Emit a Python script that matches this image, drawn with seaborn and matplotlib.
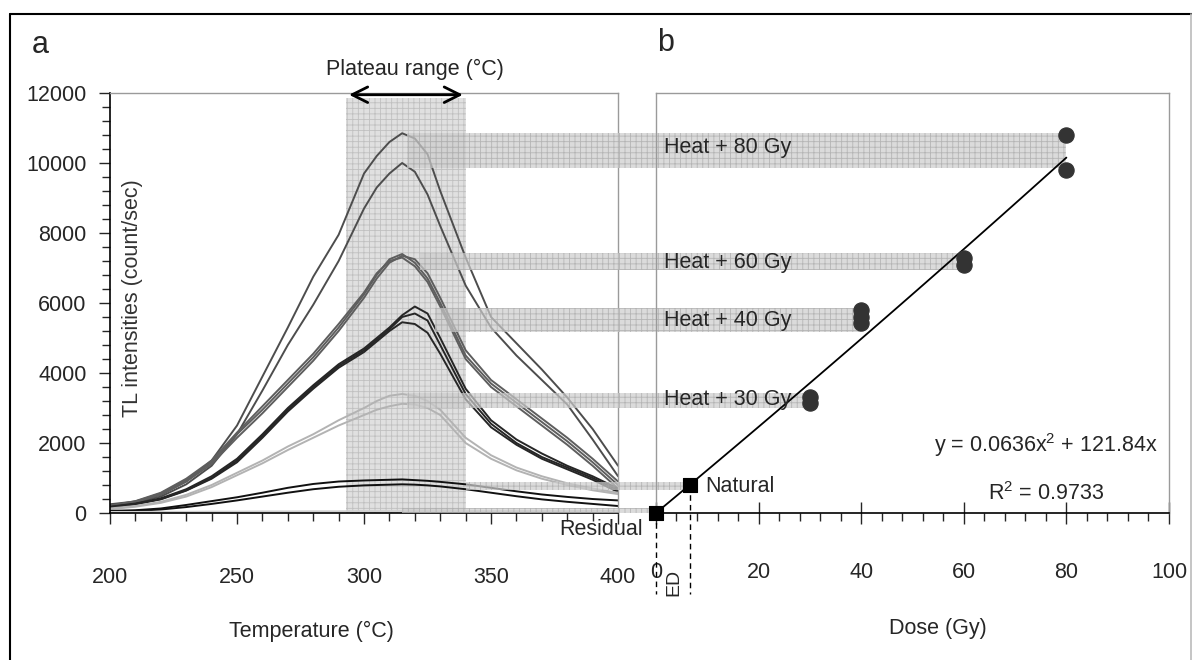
import numpy as np
import pandas as pd
import seaborn as sns
import matplotlib.pyplot as plt
from matplotlib.patches import Rectangle
from matplotlib.lines import Line2D
from matplotlib.ticker import MultipleLocator

sns.set_theme(style="white")
plt.rcParams['font.family'] = ['Liberation Sans', 'DejaVu Sans']
plt.rcParams['mathtext.fontset'] = 'custom'
plt.rcParams['mathtext.rm'] = 'Liberation Sans'
plt.rcParams['hatch.linewidth'] = 0.6

#%% glow curves (panel a)
temps = [200, 210, 220, 230, 240, 250, 260, 270, 280, 290, 300, 305, 310, 315,
         320, 325, 330, 340, 350, 360, 370, 380, 390, 400]

glow_80a = [250, 330, 520, 900, 1500, 2500, 3900, 5300, 6750, 7950, 9700, 10200, 10600, 10850,
            10700, 10250, 9200, 7300, 5600, 4850, 4100, 3300, 2400, 1350]
glow_80b = [230, 300, 470, 820, 1350, 2250, 3500, 4800, 5950, 7200, 8700, 9300, 9700, 10000,
            9750, 9100, 8200, 6500, 5300, 4500, 3800, 3100, 2100, 1050]
glow_60a = [200, 330, 560, 950, 1450, 2250, 2950, 3700, 4450, 5300, 6250, 6800, 7250, 7400,
            7150, 6700, 6000, 4500, 3700, 3150, 2600, 2050, 1450, 800]
glow_60b = [190, 310, 530, 900, 1400, 2150, 2850, 3600, 4350, 5200, 6150, 6700, 7150, 7350,
            7250, 6850, 6150, 4650, 3800, 3250, 2700, 2150, 1550, 900]
glow_60c = [210, 340, 580, 980, 1500, 2300, 3050, 3800, 4550, 5400, 6300, 6850, 7200, 7300,
            7050, 6600, 5900, 4400, 3600, 3050, 2500, 1950, 1350, 700]
glow_40a = [180, 270, 420, 680, 1050, 1550, 2250, 3000, 3650, 4250, 4700, 5000, 5300, 5650,
            5900, 5700, 5000, 3550, 2650, 2100, 1700, 1350, 1050, 700]
glow_40b = [170, 260, 400, 650, 1000, 1500, 2200, 2950, 3600, 4200, 4650, 4950, 5250, 5600,
            5700, 5500, 4800, 3400, 2550, 2000, 1600, 1300, 1000, 650]
glow_40c = [160, 250, 390, 640, 980, 1450, 2150, 2900, 3550, 4150, 4600, 4900, 5200, 5450,
            5400, 5150, 4550, 3250, 2450, 1950, 1550, 1250, 950, 600]
glow_30a = [130, 200, 320, 520, 800, 1150, 1500, 1900, 2250, 2650, 3000, 3200, 3350, 3400,
            3350, 3200, 2950, 2150, 1650, 1300, 1050, 850, 700, 580]
glow_30b = [110, 180, 290, 470, 740, 1080, 1420, 1800, 2150, 2500, 2800, 2950, 3050, 3120,
            3100, 3000, 2800, 2000, 1550, 1220, 980, 800, 650, 540]
natural_a = [60, 80, 130, 230, 340, 450, 580, 720, 830, 900, 930, 940, 950, 960,
             940, 920, 890, 820, 720, 620, 530, 460, 400, 360]
natural_b = [40, 60, 100, 170, 260, 360, 470, 580, 680, 750, 790, 800, 810, 820,
             810, 790, 760, 680, 580, 480, 390, 320, 260, 200]
residual = [30, 30, 35, 35, 40, 40, 45, 45, 50, 50, 55, 55, 55, 55,
            55, 55, 55, 55, 55, 55, 55, 55, 60, 60]

curves = {'80a': glow_80a, '80b': glow_80b, '60a': glow_60a, '60b': glow_60b, '60c': glow_60c,
          '40a': glow_40a, '40b': glow_40b, '40c': glow_40c, '30a': glow_30a, '30b': glow_30b,
          'nat_a': natural_a, 'nat_b': natural_b, 'res': residual}
curve_colors = {'80a': '#4d4d4d', '80b': '#4d4d4d', '60a': '#5e5e5e', '60b': '#5e5e5e',
                '60c': '#5e5e5e', '40a': '#262626', '40b': '#262626', '40c': '#262626',
                '30a': '#b3b3b3', '30b': '#b3b3b3', 'nat_a': '#111111', 'nat_b': '#111111',
                'res': '#cfcfcf'}

plateau = (293, 340)

#%% dose response (panel b)
dose_points = [80, 80, 60, 60, 40, 40, 40, 30, 30]
tl_points = [10800, 9800, 7280, 7090, 5800, 5600, 5430, 3320, 3130]
natural_dose, natural_tl = 6.7, 800
residual_dose, residual_tl = 0, 0
fit_a, fit_b = 0.0636, 121.84

heat_labels = ['Heat + 80 Gy', 'Heat + 60 Gy', 'Heat + 40 Gy', 'Heat + 30 Gy']
heat_label_tl = [10430, 7170, 5510, 3230]

# bands linking the glow peaks to the dose points
band_low = [9850, 6950, 5180, 2990, 660, 0]
band_high = [10870, 7420, 5850, 3420, 890, 130]
band_start_T = [317, 322, 328, 317, 340, 315]
band_end_dose = [80, 60, 40, 30, 6.7, 0]

#%% figure
fig = plt.figure(figsize=(11.92, 6.6), dpi=100)
ax_a = fig.add_axes([0.0923, 0.2227, 0.4262, 0.6364])
ax_b = fig.add_axes([0.5503, 0.2227, 0.4304, 0.6364])

df = pd.concat([pd.DataFrame({'T': temps, 'I': v, 'curve': k}) for k, v in curves.items()])
sns.lineplot(data=df, x='T', y='I', hue='curve', palette=curve_colors, legend=False,
             estimator=None, sort=False, lw=1.4, ax=ax_a)

ax_a.add_patch(Rectangle((plateau[0], 0), plateau[1] - plateau[0], 11850,
                         facecolor='#e0e0e0', edgecolor='#c0c0c0', hatch='+++', lw=0, zorder=0.5))

ax_a.set_xlim(200, 400)
ax_a.set_ylim(0, 12000)
ax_a.set_xlabel('')
ax_a.set_ylabel('')
ax_a.xaxis.set_major_locator(MultipleLocator(50))
ax_a.xaxis.set_minor_locator(MultipleLocator(10))
ax_a.yaxis.set_major_locator(MultipleLocator(2000))
ax_a.yaxis.set_minor_locator(MultipleLocator(400))
ax_a.tick_params(axis='x', which='major', direction='out', length=8, width=1, pad=31,
                 labelsize=15.5, bottom=True)
ax_a.tick_params(axis='x', which='minor', direction='out', length=6, width=1, bottom=True)
ax_a.tick_params(axis='y', which='major', direction='out', length=8, width=1, pad=9,
                 labelsize=15.5, left=True)
ax_a.tick_params(axis='y', which='minor', direction='out', length=6, width=1, left=True)
for s in ['left', 'bottom']:
    ax_a.spines[s].set_color('black')
    ax_a.spines[s].set_linewidth(1.2)
for s in ['top', 'right']:
    ax_a.spines[s].set_color('#9a9a9a')
    ax_a.spines[s].set_linewidth(1.0)

ax_a.annotate('', xy=(plateau[0], 11950), xytext=(plateau[1], 11950),
              arrowprops=dict(arrowstyle='<->', lw=2, color='black', mutation_scale=28),
              annotation_clip=False)

ax_a.text(0.045, 0.512, 'TL intensities (count/sec)', rotation=90, transform=ax_a.transAxes,
          ha='center', va='center', fontsize=15.5, color='#333333')
ax_a.text(0.396, -0.283, 'Temperature (°C)', transform=ax_a.transAxes,
          ha='center', va='center', fontsize=15.5)

# panel b
fit_x = np.linspace(0, 80, 81)
sns.lineplot(x=fit_x, y=fit_a * fit_x ** 2 + fit_b * fit_x, color='black', lw=1.3, ax=ax_b)
sns.scatterplot(x=dose_points, y=tl_points, s=120, color='#333333', edgecolor='#333333',
                ax=ax_b, zorder=4, clip_on=False)
sns.scatterplot(x=[residual_dose, natural_dose], y=[residual_tl, natural_tl], marker='s', s=100,
                color='black', edgecolor='black', ax=ax_b, zorder=5, clip_on=False)

ax_b.set_xlim(0, 100)
ax_b.set_ylim(0, 12000)
ax_b.set_xlabel('')
ax_b.set_ylabel('')
ax_b.set_yticks([])
ax_b.xaxis.set_major_locator(MultipleLocator(20))
ax_b.xaxis.set_minor_locator(MultipleLocator(4))
ax_b.tick_params(axis='x', which='major', direction='inout', length=16, width=1, pad=27,
                 labelsize=15.5, bottom=True)
ax_b.tick_params(axis='x', which='minor', direction='out', length=6, width=1, bottom=True)
ax_b.spines['bottom'].set_color('black')
ax_b.spines['bottom'].set_linewidth(1.2)
for s in ['left', 'top', 'right']:
    ax_b.spines[s].set_color('#9a9a9a')
    ax_b.spines[s].set_linewidth(1.0)

# bands from the glow peaks across to the dose points
inv_b = ax_b.transData.inverted()
for lo, hi, t0, d1 in zip(band_low, band_high, band_start_T, band_end_dose):
    x0 = inv_b.transform(ax_a.transData.transform((t0, 0)))[0]
    ax_b.add_patch(Rectangle((x0, lo), d1 - x0, hi - lo, facecolor='#cdcdcd', edgecolor='#a6a6a6',
                             hatch='+++', lw=0, alpha=0.7, zorder=1, clip_on=False))

# ED lines
ax_b.plot([residual_dose, residual_dose], [residual_tl, -2300], ls='--', dashes=(4, 3),
          color='black', lw=1, clip_on=False)
ax_b.plot([natural_dose, natural_dose], [natural_tl, -2300], ls='--', dashes=(4, 3),
          color='black', lw=1, clip_on=False)
ax_b.text(3.4, -1980, 'ED', rotation=90, ha='center', va='center', fontsize=14)

for lab, yv in zip(heat_labels, heat_label_tl):
    ax_b.text(1.6, yv, lab, ha='left', va='center', fontsize=15.5, zorder=3)
ax_b.text(9.7, natural_tl - 30, 'Natural', ha='left', va='center', fontsize=15.5)
ax_b.text(-2.5, -457, 'Residual', ha='right', va='center', fontsize=15.5, clip_on=False)
ax_b.text(76, 1940, 'y = 0.0636x$^\\mathregular{2}$ + 121.84x', ha='center', va='center', fontsize=15.5)
ax_b.text(76, 570, 'R$^\\mathregular{2}$ = 0.9733', ha='center', va='center', fontsize=15.5)
ax_b.text(0.55, -0.276, 'Dose (Gy)', transform=ax_b.transAxes, ha='center', va='center',
          fontsize=15.5)

fig.text(415 / 1192, 1 - 69 / 660, 'Plateau range (°C)', ha='center', va='center', fontsize=15.5)
fig.text(40 / 1192, 1 - 45 / 660, 'a', ha='center', va='center', fontsize=22)
fig.text(666 / 1192, 1 - 43 / 660, 'b', ha='center', va='center', fontsize=22)

# outer frame
fig.add_artist(Line2D([10 / 1192, 10 / 1192], [0, 1 - 14 / 660], color='black', lw=1.5,
                      transform=fig.transFigure))
fig.add_artist(Line2D([10 / 1192, 1], [1 - 14 / 660, 1 - 14 / 660], color='black', lw=1.5,
                      transform=fig.transFigure))
fig.add_artist(Line2D([1190.5 / 1192, 1190.5 / 1192], [0, 1 - 14 / 660], color='#bbbbbb', lw=1.2,
                      transform=fig.transFigure))

fig.savefig('out.png', dpi=100)
